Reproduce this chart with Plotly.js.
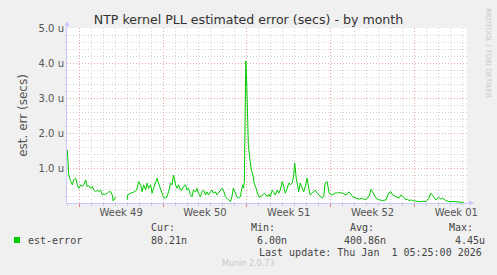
<!DOCTYPE html>
<html>
<head>
<meta charset="utf-8">
<script src="https://cdn.plot.ly/plotly-3.0.1.min.js"></script>
<style>html,body{margin:0;padding:0;background:#F0F0F0;}#chart{width:497px;height:275px;}</style>
</head>
<body>
<div id="chart"></div>
<script>
// Sample times (2-hourly consolidated Munin month view) and estimated error in microseconds
const times = [
"2025-11-30 00:00","2025-11-30 02:00","2025-11-30 03:00","2025-11-30 07:00","2025-11-30 10:00","2025-11-30 13:00","2025-11-30 17:00","2025-11-30 20:00","2025-11-30 23:00",
"2025-12-01 03:00","2025-12-01 06:00","2025-12-01 09:00","2025-12-01 13:00","2025-12-01 16:00","2025-12-01 19:00","2025-12-01 23:00",
"2025-12-02 02:00","2025-12-02 05:00","2025-12-02 09:00","2025-12-02 12:00","2025-12-02 15:00","2025-12-02 19:00","2025-12-02 22:00",
"2025-12-03 01:00","2025-12-03 05:00","2025-12-03 08:00","2025-12-03 11:00","2025-12-03 15:00","2025-12-03 18:00","2025-12-03 20:00","2025-12-03 23:00",
"2025-12-04 01:00","2025-12-04 12:00",
"2025-12-05 00:00","2025-12-05 01:00","2025-12-05 07:00","2025-12-05 13:00","2025-12-05 19:00","2025-12-05 23:00",
"2025-12-06 03:00","2025-12-06 06:00","2025-12-06 09:00","2025-12-06 13:00","2025-12-06 16:00","2025-12-06 19:00","2025-12-06 23:00",
"2025-12-07 02:00","2025-12-07 05:00","2025-12-07 09:00","2025-12-07 12:00","2025-12-07 15:00","2025-12-07 19:00","2025-12-07 22:00",
"2025-12-08 01:00","2025-12-08 07:00","2025-12-08 11:00","2025-12-08 15:00","2025-12-08 18:00","2025-12-08 21:00",
"2025-12-09 01:00","2025-12-09 04:00","2025-12-09 07:00","2025-12-09 11:00","2025-12-09 14:00","2025-12-09 17:00","2025-12-09 21:00",
"2025-12-10 00:00","2025-12-10 03:00","2025-12-10 07:00","2025-12-10 10:00","2025-12-10 13:00","2025-12-10 17:00","2025-12-10 20:00","2025-12-10 23:00",
"2025-12-11 03:00","2025-12-11 06:00","2025-12-11 09:00","2025-12-11 13:00","2025-12-11 16:00","2025-12-11 19:00","2025-12-11 23:00",
"2025-12-12 02:00","2025-12-12 05:00","2025-12-12 09:00","2025-12-12 12:00","2025-12-12 15:00","2025-12-12 19:00","2025-12-12 22:00",
"2025-12-13 01:00","2025-12-13 05:00","2025-12-13 08:00","2025-12-13 11:00","2025-12-13 15:00","2025-12-13 18:00","2025-12-13 21:00",
"2025-12-14 01:00","2025-12-14 04:00","2025-12-14 07:00","2025-12-14 11:00","2025-12-14 14:00","2025-12-14 16:00","2025-12-14 17:00","2025-12-14 19:00","2025-12-14 20:00","2025-12-14 22:00",
"2025-12-15 00:00","2025-12-15 01:00","2025-12-15 03:00","2025-12-15 05:00","2025-12-15 07:00","2025-12-15 09:00","2025-12-15 12:00","2025-12-15 15:00","2025-12-15 19:00","2025-12-15 21:00",
"2025-12-16 01:00","2025-12-16 04:00","2025-12-16 08:00","2025-12-16 11:00","2025-12-16 14:00","2025-12-16 17:00","2025-12-16 20:00","2025-12-16 23:00",
"2025-12-17 03:00","2025-12-17 06:00","2025-12-17 09:00","2025-12-17 13:00","2025-12-17 16:00","2025-12-17 19:00","2025-12-17 23:00",
"2025-12-18 02:00","2025-12-18 05:00","2025-12-18 09:00","2025-12-18 12:00","2025-12-18 15:00","2025-12-18 19:00","2025-12-18 22:00",
"2025-12-19 00:00","2025-12-19 03:00","2025-12-19 05:00","2025-12-19 08:00","2025-12-19 11:00","2025-12-19 15:00","2025-12-19 18:00","2025-12-19 21:00",
"2025-12-20 01:00","2025-12-20 04:00","2025-12-20 07:00","2025-12-20 11:00","2025-12-20 14:00","2025-12-20 17:00","2025-12-20 21:00",
"2025-12-21 00:00","2025-12-21 03:00","2025-12-21 07:00","2025-12-21 10:00","2025-12-21 13:00","2025-12-21 17:00","2025-12-21 19:00","2025-12-21 21:00",
"2025-12-22 04:00","2025-12-22 11:00","2025-12-22 14:00","2025-12-22 17:00",
"2025-12-23 00:00","2025-12-23 07:00","2025-12-23 13:00","2025-12-23 17:00","2025-12-23 20:00",
"2025-12-24 03:00","2025-12-24 09:00","2025-12-24 16:00","2025-12-24 19:00","2025-12-24 23:00",
"2025-12-25 02:00","2025-12-25 05:00","2025-12-25 09:00","2025-12-25 12:00","2025-12-25 15:00","2025-12-25 19:00",
"2025-12-26 01:00","2025-12-26 08:00","2025-12-26 15:00","2025-12-26 18:00","2025-12-26 21:00",
"2025-12-27 01:00","2025-12-27 04:00","2025-12-27 11:00","2025-12-27 17:00","2025-12-27 21:00",
"2025-12-28 00:00","2025-12-28 07:00","2025-12-28 10:00","2025-12-28 13:00","2025-12-28 17:00","2025-12-28 20:00",
"2025-12-29 03:00","2025-12-29 09:00","2025-12-29 16:00","2025-12-29 23:00",
"2025-12-30 05:00","2025-12-30 09:00","2025-12-30 12:00","2025-12-30 19:00",
"2025-12-31 01:00","2025-12-31 05:00","2025-12-31 08:00","2025-12-31 15:00","2025-12-31 21:00",
"2026-01-01 04:00","2026-01-01 11:00","2026-01-01 17:00","2026-01-02 00:00","2026-01-02 03:00"
];
const errUs = [
1.52,1.00,0.80,0.61,0.52,0.66,0.71,0.52,0.42,
0.52,0.47,0.52,0.66,0.47,0.50,0.42,
0.47,0.37,0.32,0.37,0.32,0.37,0.23,
0.25,0.25,0.28,0.32,0.32,0.23,0.06,0.15,
0.18,null,
0.09,0.23,0.28,0.31,0.37,0.61,
0.52,0.32,0.52,0.37,0.57,0.42,0.52,
0.28,0.42,0.61,0.71,0.57,0.42,0.28,
0.15,0.15,0.32,0.57,0.52,0.80,
0.52,0.42,0.52,0.37,0.37,0.47,0.52,
0.37,0.42,0.23,0.18,0.37,0.32,0.42,0.28,
0.18,0.32,0.37,0.23,0.32,0.23,0.32,
0.37,0.28,0.32,0.23,0.28,0.37,0.42,
0.37,0.18,0.14,0.09,0.04,0.18,0.42,
0.28,0.18,0.14,0.18,0.42,0.52,0.42,0.61,1.86,4.06,
3.30,2.40,1.67,1.38,1.09,0.95,0.80,0.55,0.40,0.28,
0.16,0.18,0.23,0.28,0.23,0.18,0.25,0.18,
0.37,0.28,0.23,0.37,0.28,0.37,0.61,
0.47,0.28,0.42,0.57,0.52,0.57,0.80,
1.14,0.71,0.52,0.32,0.57,0.42,0.32,0.47,
0.71,0.42,0.23,0.28,0.32,0.37,0.28,
0.23,0.18,0.14,0.18,0.57,0.61,0.42,0.28,
0.23,0.30,0.28,0.30,
0.28,0.23,0.32,0.23,0.18,
0.14,0.11,0.14,0.09,0.11,
0.14,0.20,0.39,0.32,0.23,0.14,
0.09,0.07,0.09,0.18,0.30,
0.32,0.23,0.18,0.14,0.23,
0.20,0.09,0.11,0.07,0.09,0.07,
0.05,0.04,0.05,0.04,
0.14,0.28,0.23,0.09,
0.16,0.11,0.14,0.07,0.04,
0.05,0.04,0.03,0.01,0.03
];

const weekStarts = ["2025-12-01","2025-12-08","2025-12-15","2025-12-22","2025-12-29"];
const weekLabels = ["Week 49","Week 50","Week 51","Week 52","Week 01"];
const yTickVals = [1,2,3,4,5];
const yTickText = ["1.0 u","2.0 u","3.0 u","4.0 u","5.0 u"];
const legendHeads = ["Cur:","Min:","Avg:","Max:"];
const legendVals = ["80.21n","6.00n","400.86n","4.45u"];
const seriesName = "est-error";
const lastUpdate = "Last update: Thu Jan\u00a0\u00a01 05:25:00 2026";
const xRange = ["2025-11-29 23:24","2026-01-02 09:24"];

const DAY = 86400000;
const weekMids = weekStarts.map(d => new Date(new Date(d + "T00:00:00Z").getTime() + 3.5*DAY).toISOString().replace("T"," ").slice(0,19));

// pixel helpers for page furniture (plot area: x 67..467, y 28..203)
const PL=67, PW=400, PT=28, PH=175;
const px = p => (p-PL)/PW;
const py = p => (PT+PH-p)/PH;

const mono = {family:"DejaVu Sans Mono", size:10, color:"#444"};
const annots = [];
const headX = [149,249,348,447];
legendHeads.forEach((t,i)=>annots.push({text:t,x:px(headX[i]),y:py(227),xref:"paper",yref:"paper",xanchor:"left",yanchor:"middle",showarrow:false,font:mono}));
const valX = [149,255,342,453];
legendVals.forEach((t,i)=>annots.push({text:t,x:px(valX[i]),y:py(240),xref:"paper",yref:"paper",xanchor:"left",yanchor:"middle",showarrow:false,font:mono}));
annots.push({text:seriesName,x:px(26),y:py(240),xref:"paper",yref:"paper",xanchor:"left",yanchor:"middle",showarrow:false,font:mono});
annots.push({text:lastUpdate,x:px(484),y:py(252),xref:"paper",yref:"paper",xanchor:"right",yanchor:"middle",showarrow:false,font:mono});
annots.push({text:"Munin 2.0.73",x:px(248),y:py(263),xref:"paper",yref:"paper",xanchor:"center",yanchor:"middle",showarrow:false,font:{family:"DejaVu Sans",size:8,color:"#c8c8c8"}});
annots.push({text:"RRDTOOL / TOBI OETIKER",x:px(488),y:py(53),xref:"paper",yref:"paper",xanchor:"center",yanchor:"middle",textangle:90,showarrow:false,font:{family:"DejaVu Sans",size:7,color:"#c8c8c8"}});
// axis arrows
annots.push({text:"",x:0,y:py(21),xref:"paper",yref:"paper",ax:0,ay:9,showarrow:true,arrowhead:2,arrowsize:1,arrowwidth:1,arrowcolor:"#c8c8ff"});
annots.push({text:"",x:px(474),y:0,xref:"paper",yref:"paper",ax:-9,ay:0,showarrow:true,arrowhead:2,arrowsize:1,arrowwidth:1,arrowcolor:"#c8c8ff"});

const data = [
  {type:"scatter",mode:"lines",x:times,y:errUs,name:seriesName,line:{color:"#00CC00",width:1},connectgaps:false,hoverinfo:"skip",showlegend:false},
  {type:"scatter",mode:"none",x:times,y:errUs,xaxis:"x2",yaxis:"y",hoverinfo:"skip",showlegend:false}
];

const gridRed = "#eba4a4", gridGray = "#d4d4d4", gridDash = "1px,2px";
const layout = {
  width:497, height:275,
  margin:{l:PL, r:497-PL-PW, t:PT, b:275-PT-PH, pad:0},
  paper_bgcolor:"#F0F0F0", plot_bgcolor:"#FFFFFF",
  showlegend:false,
  title:{text:"NTP kernel PLL estimated error (secs) - by month", x:0.5, xref:"container", xanchor:"center", y:1-20/275, yref:"container", yanchor:"middle", font:{family:"DejaVu Sans", size:12.6, color:"#333"}},
  xaxis:{type:"date", range:xRange, tickmode:"array", tickvals:weekStarts, showticklabels:false,
    ticks:"outside", ticklen:3, tickcolor:"#e08080", tickwidth:1,
    showgrid:true, gridcolor:gridRed, griddash:gridDash, gridwidth:1,
    minor:{dtick:DAY, tick0:"2025-12-01", showgrid:true, gridcolor:gridGray, griddash:gridDash, gridwidth:1, ticks:"outside", ticklen:2, tickcolor:"#c8c8c8"},
    showline:true, linecolor:"#c8c8ff", linewidth:1, zeroline:false, fixedrange:true},
  xaxis2:{type:"date", range:xRange, overlaying:"x", anchor:"y", side:"bottom", tickmode:"array", tickvals:weekMids, ticktext:weekLabels,
    showgrid:false, ticks:"", showline:false, zeroline:false, tickfont:{family:"DejaVu Sans", size:10, color:"#555"}, fixedrange:true, ticklabelstandoff:2},
  yaxis:{range:[0,5], tickmode:"array", tickvals:yTickVals, ticktext:yTickText, tickfont:{family:"DejaVu Sans", size:10, color:"#555"},
    ticks:"", showgrid:true, gridcolor:gridRed, griddash:gridDash, gridwidth:1,
    minor:{tickmode:"linear", tick0:0, dtick:0.2, showgrid:true, gridcolor:gridGray, griddash:gridDash, gridwidth:1},
    showline:true, linecolor:"#c8c8ff", linewidth:1, zeroline:false, fixedrange:true,
    title:{text:"est. err (secs)", font:{family:"DejaVu Sans", size:12, color:"#555"}, standoff:8}},
  shapes:[{type:"rect", xref:"paper", yref:"paper", x0:px(14), x1:px(20), y0:py(243), y1:py(237), fillcolor:"#00CC00", line:{width:0}}],
  annotations:annots
};
Plotly.newPlot("chart", data, layout, {staticPlot:true, displayModeBar:false});
</script>
</body>
</html>
